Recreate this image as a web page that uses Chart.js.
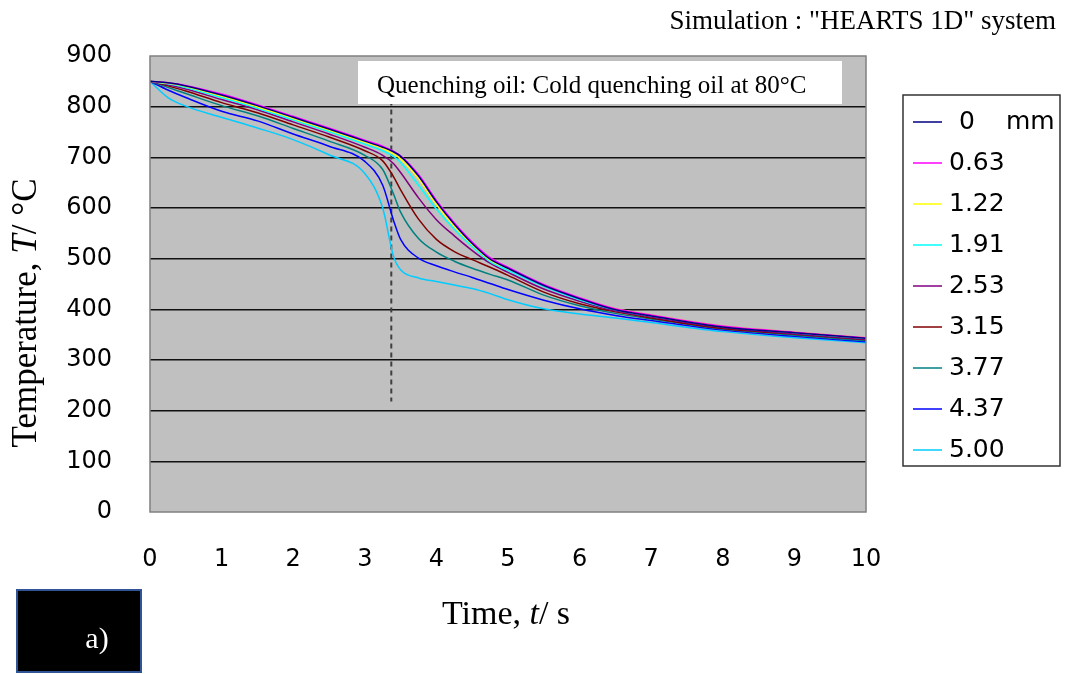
<!DOCTYPE html>
<html>
<head>
<meta charset="utf-8">
<script src="https://cdn.jsdelivr.net/npm/chart.js@4.4.1/dist/chart.umd.min.js"></script>
<style>
  body { margin: 0; background: #fff; }
  #wrap { width: 1065px; height: 674px; }
</style>
</head>
<body>
<div id="wrap"><canvas id="coolingChart" width="1065" height="674"></canvas></div>
<script>
// time axis (s)
const times = [0, 0.25, 0.5, 1, 1.5, 2, 2.5, 3, 3.25, 3.4, 3.5, 3.75, 4, 4.25, 4.5, 4.75, 5, 5.5, 6, 6.5, 7, 8, 9, 10];

// depth from centre (mm) and colours
const depthLabels = ['0', '0.63', '1.22', '1.91', '2.53', '3.15', '3.77', '4.37', '5.00'];
const depthColors = ['#000080', '#FF00FF', '#FFFF00', '#00FFFF', '#800080', '#800000', '#008080', '#0000FF', '#00CCFF'];

// temperature (°C) for each depth
const temp000 = [850, 847, 841, 823, 802, 779, 756, 732, 720, 711, 702, 663, 612, 568, 530, 499, 481, 447, 421, 399, 387, 365, 354, 343];
const temp063 = [850, 847, 842, 825, 804, 781, 758, 734, 722, 712, 703, 666, 615, 571, 533, 502, 483, 449, 423, 401, 389, 367, 355, 344];
const temp122 = [850, 846, 840, 821, 800, 777, 754, 730, 718, 707, 697, 658, 607, 564, 528, 497, 481, 448, 422, 401, 389, 367, 355, 344];
const temp191 = [850, 845, 838, 818, 797, 774, 751, 726, 713, 702, 690, 645, 598, 558, 524, 494, 477, 445, 419, 399, 387, 366, 354, 343];
const temp253 = [850, 843, 835, 814, 794, 770, 746, 720, 704, 688, 670, 620, 577, 545, 516, 491, 473, 440, 416, 397, 385, 364, 352, 341];
const temp315 = [850, 841, 831, 808, 788, 764, 740, 713, 693, 662, 636, 578, 538, 514, 498, 483, 467, 434, 411, 395, 383, 362, 351, 340];
const temp377 = [850, 838, 826, 802, 782, 757, 732, 704, 676, 628, 592, 540, 513, 495, 481, 469, 458, 428, 407, 392, 381, 361, 349, 338];
const temp437 = [850, 833, 818, 791, 772, 746, 722, 692, 645, 576, 538, 501, 486, 474, 463, 451, 439, 418, 401, 388, 378, 359, 347, 336];
const temp500 = [850, 818, 801, 779, 758, 735, 705, 668, 600, 505, 478, 462, 455, 448, 441, 431, 419, 401, 391, 383, 374, 356, 344, 334];

const seriesTemps = [temp000, temp063, temp122, temp191, temp253, temp315, temp377, temp437, temp500];

// dashed marker line
const markerTime = [3.37, 3.37];
const markerTemp = [830, 218];

const datasets = seriesTemps.map((temps, i) => ({
  label: depthLabels[i],
  data: temps.map((v, j) => ({ x: times[j], y: v })),
  borderColor: depthColors[i],
  borderWidth: 1.5,
  pointRadius: 0,
  fill: false,
  cubicInterpolationMode: 'monotone'
}));

datasets.push({
  label: 'marker',
  data: markerTime.map((t, j) => ({ x: t, y: markerTemp[j] })),
  borderColor: '#404040',
  borderWidth: 2,
  borderDash: [5, 4],
  pointRadius: 0,
  fill: false
});

function drawRich(ctx, parts, cx, cy, size) {
  const fontFor = (p) => (p.italic ? 'italic ' : '') + size + 'px "Liberation Serif", "Times New Roman", serif';
  let total = 0;
  parts.forEach(p => { ctx.font = fontFor(p); total += ctx.measureText(p.text).width; });
  let x = cx - total / 2;
  ctx.textAlign = 'left';
  ctx.textBaseline = 'middle';
  parts.forEach(p => {
    ctx.font = fontFor(p);
    ctx.fillText(p.text, x, cy);
    x += ctx.measureText(p.text).width;
  });
}

const decorations = {
  id: 'decorations',
  beforeDraw(chart) {
    const { ctx, chartArea: a } = chart;
    ctx.save();
    ctx.fillStyle = '#C0C0C0';
    ctx.fillRect(a.left, a.top, a.right - a.left, a.bottom - a.top);
    ctx.restore();
  },
  afterDraw(chart) {
    const { ctx, chartArea: a } = chart;
    ctx.save();

    // plot frame
    ctx.strokeStyle = '#808080';
    ctx.lineWidth = 1.5;
    ctx.strokeRect(a.left, a.top, a.right - a.left, a.bottom - a.top);

    // quenching note
    ctx.fillStyle = '#ffffff';
    ctx.fillRect(358, 61, 484, 43);
    ctx.fillStyle = '#000';
    ctx.font = '25px "Liberation Serif", "Times New Roman", serif';
    ctx.textAlign = 'left';
    ctx.textBaseline = 'alphabetic';
    ctx.fillText('Quenching oil: Cold quenching oil at 80°C', 377, 93);

    // top-right caption
    ctx.font = '27px "Liberation Serif", "Times New Roman", serif';
    ctx.textAlign = 'right';
    ctx.fillText('Simulation : "HEARTS 1D" system', 1056, 29);

    // legend
    ctx.fillStyle = '#ffffff';
    ctx.fillRect(903, 95, 157, 371);
    ctx.strokeStyle = '#333';
    ctx.lineWidth = 1.5;
    ctx.strokeRect(903, 95, 157, 371);
    ctx.font = '25px "DejaVu Sans", sans-serif';
    ctx.textBaseline = 'middle';
    ctx.textAlign = 'left';
    depthLabels.forEach((lab, i) => {
      const y = 122 + i * 41;
      ctx.strokeStyle = depthColors[i];
      ctx.lineWidth = 1.5;
      ctx.beginPath();
      ctx.moveTo(913, y);
      ctx.lineTo(942, y);
      ctx.stroke();
      ctx.fillStyle = '#000';
      if (i === 0) {
        ctx.fillText(lab, 959, y);
        ctx.fillText('mm', 1006, y);
      } else {
        ctx.fillText(lab, 949, y);
      }
    });

    // axis titles
    ctx.fillStyle = '#000';
    ctx.save();
    ctx.translate(27, 313);
    ctx.rotate(-Math.PI / 2);
    drawRich(ctx, [{ text: 'Temperature, ' }, { text: 'T', italic: true }, { text: '/ °C' }], 0, 0, 35);
    ctx.restore();
    drawRich(ctx, [{ text: 'Time, ' }, { text: 't', italic: true }, { text: '/ s' }], 506, 615, 34);

    // panel tag
    ctx.fillStyle = '#000';
    ctx.fillRect(17, 590, 124, 82);
    ctx.strokeStyle = '#2F5597';
    ctx.lineWidth = 2;
    ctx.strokeRect(17, 590, 124, 82);
    ctx.fillStyle = '#fff';
    ctx.font = '30px "Liberation Serif", "Times New Roman", serif';
    ctx.textAlign = 'center';
    ctx.textBaseline = 'middle';
    ctx.fillText('a)', 97, 640);

    ctx.restore();
  }
};

const ctx = document.getElementById('coolingChart').getContext('2d');
new Chart(ctx, {
  type: 'line',
  data: { datasets: datasets },
  options: {
    responsive: false,
    animation: false,
    layout: { padding: { top: 56, right: 199, bottom: 0, left: 0 } },
    plugins: {
      legend: { display: false },
      tooltip: { enabled: false }
    },
    scales: {
      x: {
        type: 'linear',
        min: 0,
        max: 10,
        ticks: {
          stepSize: 1,
          padding: 33,
          color: '#000',
          font: { family: "'DejaVu Sans', sans-serif", size: 24 }
        },
        grid: { display: false, drawTicks: false },
        border: { display: false },
        afterFit: (scale) => { scale.height = 162; }
      },
      y: {
        min: 0,
        max: 900,
        ticks: {
          stepSize: 100,
          padding: 38,
          color: '#000',
          font: { family: "'DejaVu Sans', sans-serif", size: 24 }
        },
        grid: {
          drawTicks: false,
          lineWidth: 1.5,
          color: (c) => (c.tick && (c.tick.value === 0 || c.tick.value === 900)) ? 'rgba(0,0,0,0)' : '#111'
        },
        border: { display: false },
        afterFit: (scale) => { scale.width = 150; }
      }
    }
  },
  plugins: [decorations]
});
</script>
</body>
</html>
